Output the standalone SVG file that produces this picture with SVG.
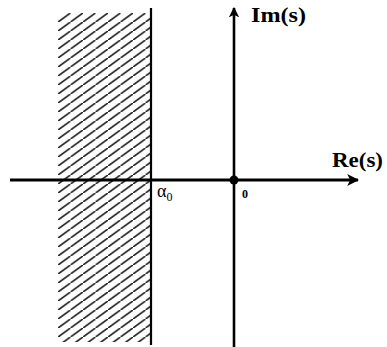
<svg xmlns="http://www.w3.org/2000/svg" width="387" height="347" viewBox="0 0 387 347">
<defs>
<pattern id="hatch" patternUnits="userSpaceOnUse" x="58" y="13" width="12.5" height="9">
<line x1="-1.25" y1="9.9" x2="13.75" y2="-0.9" stroke="#2a2a2a" stroke-width="1.8"/>
</pattern>
<marker id="arr" viewBox="0 0 10 10" refX="9" refY="5" markerWidth="4" markerHeight="4" markerUnits="strokeWidth" orient="auto">
<path d="M0,0 L10,5 L0,10 L2.5,5 Z" fill="#000"/>
</marker>
<style>
.ax{stroke:#000;fill:none}
.lbl{font-family:"Liberation Serif",serif;font-weight:bold;fill:#000}
</style>
</defs>
<rect width="387" height="347" fill="#fff"/>
<g id="region">
<rect x="58" y="13" width="93" height="329" fill="url(#hatch)"/>
<line x1="151" y1="8" x2="151" y2="345" stroke="#000" stroke-width="2.2"/>
</g>
<g id="connectors">
<line class="ax" x1="10" y1="180" x2="358" y2="180" stroke-width="3" marker-end="url(#arr)"/>
<line class="ax" x1="234" y1="347" x2="234" y2="8" stroke-width="2.6" marker-end="url(#arr)"/>
</g>
<g id="origin"><circle cx="234" cy="180" r="4.5" fill="#000"/></g>
<g id="labels">
<text class="lbl" x="251" y="22" font-size="20" textLength="55" lengthAdjust="spacingAndGlyphs">Im(s)</text>
<text class="lbl" x="332" y="167" font-size="20" textLength="51" lengthAdjust="spacingAndGlyphs">Re(s)</text>
<text x="157" y="197" font-family="'Liberation Serif',serif" font-size="18" fill="#000">α<tspan font-size="12" dy="4">0</tspan></text>
<text class="lbl" x="242" y="198" font-size="12">0</text>
</g>
</svg>
